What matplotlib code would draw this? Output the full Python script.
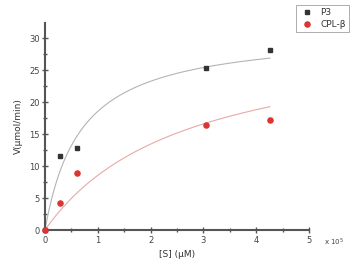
import numpy as np
import matplotlib
matplotlib.use('Agg')
from matplotlib import pyplot as plt
from matplotlib.ticker import MultipleLocator

# substrate concentration (x 10^5 uM)
s_p3 = [0.0, 0.28, 0.61, 3.05, 4.26]
v_p3 = [0.0, 11.6, 12.9, 25.3, 28.1]
s_cpl = [0.0, 0.28, 0.61, 3.05, 4.26]
v_cpl = [0.0, 4.2, 9.0, 16.4, 17.2]

# Michaelis-Menten fit parameters
vmax_p3, km_p3 = 31.2, 0.68
vmax_cpl, km_cpl = 31.4, 2.67

axcol = '#555555'
labfont = 6


def mm(s, vmax, km):
    return vmax * s / (km + s)


fig = plt.figure(figsize=(3.59, 2.75), dpi=100)
ax = fig.add_axes([0.1253, 0.1636, 0.7354, 0.7527])

s = np.linspace(0, 4.26, 200)
ax.plot(s, mm(s, vmax_p3, km_p3), color='#b4b4b4', lw=0.8)
ax.plot(s, mm(s, vmax_cpl, km_cpl), color='#eaa8a8', lw=0.8)

ax.plot(s_p3, v_p3, ls='none', marker='s', ms=3.5, color='#333333',
        label='P3', clip_on=False, zorder=3)
ax.plot(s_cpl, v_cpl, ls='none', marker='o', ms=3.7, color='#dd3333',
        label='CPL-\u03b2', clip_on=False, zorder=4)

ax.set_xlim(0, 5)
ax.set_ylim(0, 32.4)
ax.xaxis.set_major_locator(MultipleLocator(1))
ax.xaxis.set_minor_locator(MultipleLocator(0.5))
ax.yaxis.set_major_locator(MultipleLocator(5))
ax.yaxis.set_minor_locator(MultipleLocator(2.5))

for side in ['top', 'right']:
    ax.spines[side].set_visible(False)
for side in ['left', 'bottom']:
    ax.spines[side].set_color(axcol)
    ax.spines[side].set_linewidth(1.5)

ax.tick_params(which='major', direction='inout', length=4, width=1,
               color=axcol, labelsize=labfont, labelcolor='#444444', pad=2)
ax.tick_params(which='minor', direction='inout', length=2.5, width=1,
               color=axcol)

ax.set_xlabel('[S] (\u03bcM)', fontsize=6.5, color='#333333', labelpad=4)
ax.set_ylabel('V(\u03bcmol/min)', fontsize=6.5, color='#333333', labelpad=4)
ax.text(1.055, -0.06, 'x 10$^5$', transform=ax.transAxes, fontsize=5,
        color='#444444', ha='left', va='center')

leg = fig.legend(loc='upper left', bbox_to_anchor=(0.825, 0.982),
                 borderaxespad=0, fontsize=6.5, frameon=True, fancybox=False,
                 edgecolor='#888888', borderpad=0.35, labelspacing=0.3,
                 handlelength=1.6, handletextpad=0.7)
leg.get_frame().set_linewidth(0.6)
for t in leg.get_texts():
    t.set_color('#333333')

fig.savefig('out.png', dpi=100)
